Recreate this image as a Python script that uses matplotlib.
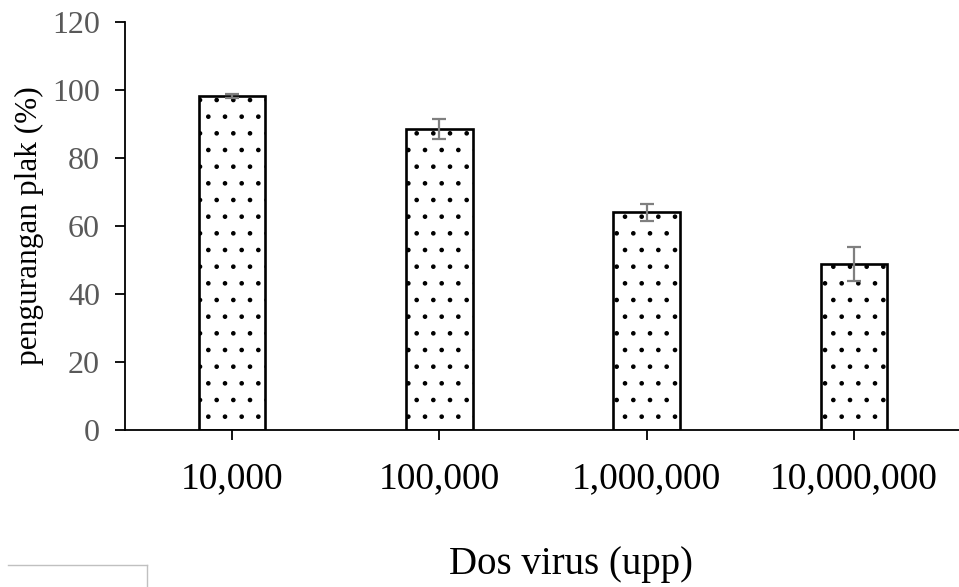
import matplotlib.pyplot as plt
from matplotlib.lines import Line2D

plt.rcParams['font.family'] = ['Liberation Serif', 'DejaVu Serif']
plt.rcParams['hatch.linewidth'] = 0.9

doses = ['10,000', '100,000', '1,000,000', '10,000,000']
reduction = [98.2, 88.5, 64.0, 48.8]
errors = [0.5, 3.0, 2.5, 5.0]

fig = plt.figure(figsize=(9.59, 5.87), dpi=100)
ax = fig.add_axes([0.1303, 0.2675, 0.8697, 0.695])

x = range(len(doses))
ax.bar(x, reduction, width=0.32, color='white', edgecolor='black',
       linewidth=1.9, hatch='.', zorder=2)
ax.errorbar(x, reduction, yerr=errors, fmt='none', ecolor='#7f7f7f',
            elinewidth=1.6, capsize=5, capthick=1.6, zorder=3)

ax.set_xlim(-0.517, 3.507)
ax.set_ylim(0, 120)
ax.set_yticks(range(0, 121, 20))
ax.set_xticks(list(x))
ax.set_xticklabels(doses)

for s in ['top', 'right']:
    ax.spines[s].set_visible(False)
for s in ['left', 'bottom']:
    ax.spines[s].set_linewidth(1.3)

ax.tick_params(axis='y', direction='out', length=7, width=1.3,
               labelsize=23, labelcolor='#595959', pad=11)
ax.tick_params(axis='x', direction='out', length=7, width=1.3,
               labelsize=27, labelcolor='black', pad=16)

ax.set_ylabel('pengurangan plak (%)', fontsize=22.5, labelpad=6)
ax.set_xlabel('Dos virus (upp)', fontsize=28)
ax.xaxis.set_label_coords(0.535, -0.285)

# small leftover frame corner at the bottom left
fig.add_artist(Line2D([8 / 959, 147 / 959], [1 - 565 / 587, 1 - 565 / 587],
                      transform=fig.transFigure, color='#c0c0c0', lw=1))
fig.add_artist(Line2D([147 / 959, 147 / 959], [1 - 565 / 587, 0],
                      transform=fig.transFigure, color='#c0c0c0', lw=1))

fig.savefig('out.png', dpi=100)
